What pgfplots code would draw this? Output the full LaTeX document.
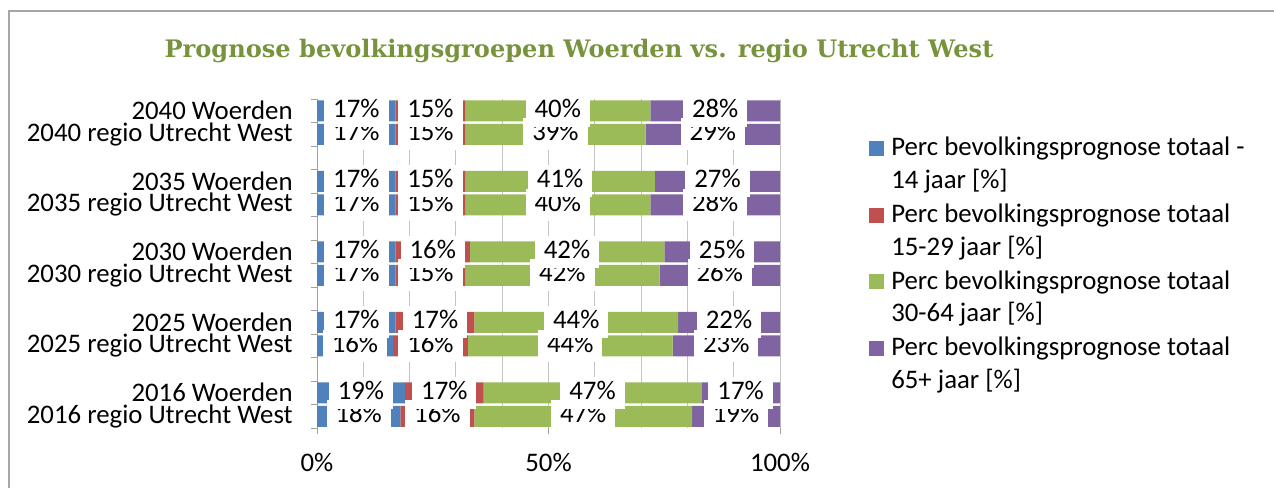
\documentclass[border=0pt]{standalone}
\usepackage{pgfplots}
\pgfplotsset{compat=1.18}
\usepackage{pgfplotstable}
\usepackage{fontspec}
\setmainfont{Carlito}
\newfontfamily\titlefont{DejaVu Serif}

\definecolor{c1}{HTML}{4F81BD}
\definecolor{c2}{HTML}{C0504D}
\definecolor{c3}{HTML}{9BBB59}
\definecolor{c4}{HTML}{8064A2}
\definecolor{titlegreen}{HTML}{77933C}
\definecolor{framegray}{HTML}{A6A6A6}
\definecolor{axisgray}{HTML}{A0A0A0}
\definecolor{gridgray}{HTML}{C4C4C4}

% y = slot (0 = bottom), a..d = shares per age group in %
\pgfplotstableread{
y  a    b    c    d
0  18   16   47   19
1  19   17   47   17
3  16.4 16.2 44.2 23.2
4  17   17   44   22
6  17   15   42   26
7  17   16   42   25
9  17   15   40   28
10 17   15   41   27
12 17   15   39   29
13 17   15   40   28
}\progdata

\begin{document}
\fontsize{13.4pt}{16.25pt}\selectfont
\begin{tikzpicture}
\useasboundingbox (0,0) rectangle (637pt,-244pt);
\draw[framegray, line width=0.75pt] (4.5pt,-244pt) -- (4.5pt,-5.5pt) -- (637pt,-5.5pt);
\node[anchor=base, inner sep=0pt, text=titlegreen,
      font=\titlefont\bfseries\fontsize{12.05pt}{14pt}\selectfont]
  at (289.5pt,-28.85pt) {Prognose bevolkingsgroepen Woerden vs. regio Utrecht West};
\begin{axis}[
  at={(158.5pt,-214pt)}, anchor=south west,
  scale only axis, width=231.5pt, height=164.5pt,
  xbar stacked, bar width=0.894,
  xmin=0, xmax=100, ymin=-0.5, ymax=13.5,
  clip=false,
  axis lines*=left,
  x axis line style={draw=none},
  y axis line style={axisgray, line width=0.5pt},
  xtick={0,50,100}, xticklabels={0\%,50\%,100\%},
  minor xtick={10,20,...,90},
  xmajorgrids, xminorgrids,
  major grid style={gridgray, line width=0.5pt},
  minor grid style={gridgray, line width=0.5pt},
  xtick align=outside, ytick align=outside,
  major tick length=3pt, minor tick length=3pt,
  major x tick style={axisgray, line width=0.5pt},
  minor x tick style={draw=none},
  ytick={0,1,3,4,6,7,9,10,12,13},
  yticklabels={2016 regio Utrecht West, 2016 Woerden,
               2025 regio Utrecht West, 2025 Woerden,
               2030 regio Utrecht West, 2030 Woerden,
               2035 regio Utrecht West, 2035 Woerden,
               2040 regio Utrecht West, 2040 Woerden},
  major y tick style={draw=none},
  minor ytick={-0.5,0.5,...,13.5},
  minor y tick style={axisgray, line width=0.5pt},
  yticklabel style={anchor=east, inner sep=0pt, xshift=-9pt},
  xticklabel style={anchor=base, inner sep=0pt, yshift=-18.9pt},
  point meta=explicit symbolic,
  nodes near coords={\pgfmathprintnumber[fixed,precision=0,assume math mode=true]{\pgfplotspointmeta}\%},
  every node near coord/.append style={anchor=center, fill=white,
      inner xsep=4.5pt, inner ysep=2pt, text height=0.7em, text depth=0.2em},
  legend image code/.code={\fill[#1] (0pt,16.25pt) rectangle (7.5pt,23.75pt);},
  legend style={at={(1.192,0.897)}, anchor=north west, draw=none, fill=none,
      inner sep=0pt, row sep=1.75pt, column sep=1.5pt,
      cells={anchor=base west, align=left, inner sep=0pt}},
]
\addplot[fill=c1, draw=none] table[x=a, y=y, meta=a]{\progdata};
\addlegendentry{Perc bevolkingsprognose totaal -\\14 jaar [\%]}
\addplot[fill=c2, draw=none] table[x=b, y=y, meta=b]{\progdata};
\addlegendentry{Perc bevolkingsprognose totaal\\15-29 jaar [\%]}
\addplot[fill=c3, draw=none] table[x=c, y=y, meta=c]{\progdata};
\addlegendentry{Perc bevolkingsprognose totaal\\30-64 jaar [\%]}
\addplot[fill=c4, draw=none] table[x=d, y=y, meta=d]{\progdata};
\addlegendentry{Perc bevolkingsprognose totaal\\65+ jaar [\%]}
\end{axis}
\end{tikzpicture}
\end{document}
